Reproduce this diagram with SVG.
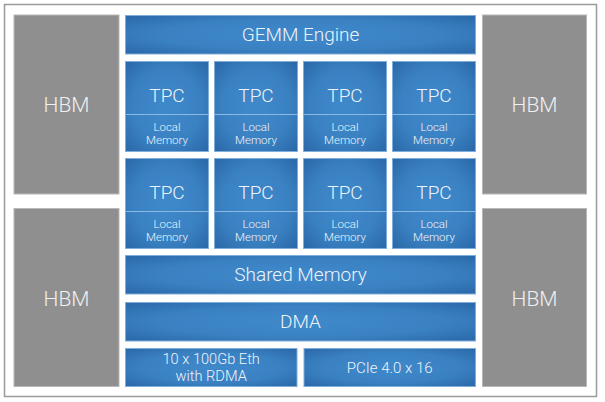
<svg xmlns="http://www.w3.org/2000/svg" width="605" height="402" viewBox="0 0 605 402">
<defs>
<radialGradient id="blue" cx="50%" cy="50%" r="75%">
<stop offset="0" stop-color="#3f89ca"/>
<stop offset="0.55" stop-color="#3a81c2"/>
<stop offset="1" stop-color="#2763a3"/>
</radialGradient>
<style>
.blk{fill:url(#blue);stroke:#7eaedb;stroke-width:1}
.hbm{fill:#8f8f8f;stroke:#b8b8b8;stroke-width:1}
.div{stroke:#8cb9e2;stroke-width:1}
text{font-family:Roboto,"Liberation Sans",sans-serif;font-weight:300;fill:#eef4fa;text-anchor:middle}
.big{font-size:19px}
.hb{font-size:21px;fill:#f0f0f0}
.sm{font-size:11.5px}
.md{font-size:15px}
.md2{font-size:14.6px}
</style>
</defs>
<rect x="4.5" y="4.5" width="592" height="392" fill="#ffffff" stroke="#9a9a9a" stroke-width="1.5"/>
<g id="hbm-tl"><rect class="hbm" x="14" y="15" width="105" height="179"/><text class="hb" x="66.5" y="112">HBM</text></g>
<g id="hbm-bl"><rect class="hbm" x="14" y="208.5" width="105" height="178"/><text class="hb" x="66.5" y="305.5">HBM</text></g>
<g id="hbm-tr"><rect class="hbm" x="482.5" y="15" width="104" height="179"/><text class="hb" x="534.5" y="112">HBM</text></g>
<g id="hbm-br"><rect class="hbm" x="482.5" y="208.5" width="104" height="178"/><text class="hb" x="534.5" y="305.5">HBM</text></g>
<g id="gemm"><rect class="blk" x="125.5" y="15.5" width="350" height="38.5"/><text class="big" x="300.5" y="40.7">GEMM Engine</text></g>
<g id="tpc1"><rect class="blk" x="125.5" y="61.5" width="83" height="90"/><line class="div" x1="125.5" y1="114.5" x2="208.5" y2="114.5"/><text class="big" x="167" y="102">TPC</text><text class="sm" x="167" y="131">Local</text><text class="sm" x="167" y="143.5">Memory</text></g>
<g id="tpc2"><rect class="blk" x="214.5" y="61.5" width="83" height="90"/><line class="div" x1="214.5" y1="114.5" x2="297.5" y2="114.5"/><text class="big" x="256" y="102">TPC</text><text class="sm" x="256" y="131">Local</text><text class="sm" x="256" y="143.5">Memory</text></g>
<g id="tpc3"><rect class="blk" x="303.5" y="61.5" width="83" height="90"/><line class="div" x1="303.5" y1="114.5" x2="386.5" y2="114.5"/><text class="big" x="345" y="102">TPC</text><text class="sm" x="345" y="131">Local</text><text class="sm" x="345" y="143.5">Memory</text></g>
<g id="tpc4"><rect class="blk" x="392.5" y="61.5" width="83" height="90"/><line class="div" x1="392.5" y1="114.5" x2="475.5" y2="114.5"/><text class="big" x="434" y="102">TPC</text><text class="sm" x="434" y="131">Local</text><text class="sm" x="434" y="143.5">Memory</text></g>
<g id="tpc5"><rect class="blk" x="125.5" y="158.5" width="83" height="90"/><line class="div" x1="125.5" y1="211.5" x2="208.5" y2="211.5"/><text class="big" x="167" y="199">TPC</text><text class="sm" x="167" y="228">Local</text><text class="sm" x="167" y="240.5">Memory</text></g>
<g id="tpc6"><rect class="blk" x="214.5" y="158.5" width="83" height="90"/><line class="div" x1="214.5" y1="211.5" x2="297.5" y2="211.5"/><text class="big" x="256" y="199">TPC</text><text class="sm" x="256" y="228">Local</text><text class="sm" x="256" y="240.5">Memory</text></g>
<g id="tpc7"><rect class="blk" x="303.5" y="158.5" width="83" height="90"/><line class="div" x1="303.5" y1="211.5" x2="386.5" y2="211.5"/><text class="big" x="345" y="199">TPC</text><text class="sm" x="345" y="228">Local</text><text class="sm" x="345" y="240.5">Memory</text></g>
<g id="tpc8"><rect class="blk" x="392.5" y="158.5" width="83" height="90"/><line class="div" x1="392.5" y1="211.5" x2="475.5" y2="211.5"/><text class="big" x="434" y="199">TPC</text><text class="sm" x="434" y="228">Local</text><text class="sm" x="434" y="240.5">Memory</text></g>
<g id="shared"><rect class="blk" x="125.5" y="255.5" width="350" height="38.5"/><text class="big" x="300.5" y="280.7">Shared Memory</text></g>
<g id="dma"><rect class="blk" x="125.5" y="302.5" width="350" height="38.5"/><text class="big" x="300.5" y="328.3">DMA</text></g>
<g id="eth"><rect class="blk" x="125.5" y="348.5" width="171.5" height="38"/><text class="md2" x="211.2" y="363.6">10 x 100Gb Eth</text><text class="md2" x="211.2" y="380.8">with RDMA</text></g>
<g id="pcie"><rect class="blk" x="304" y="348.5" width="171.5" height="38"/><text class="md" x="389.7" y="373.3">PCIe 4.0 x 16</text></g>
<g id="connectors"/>
</svg>
